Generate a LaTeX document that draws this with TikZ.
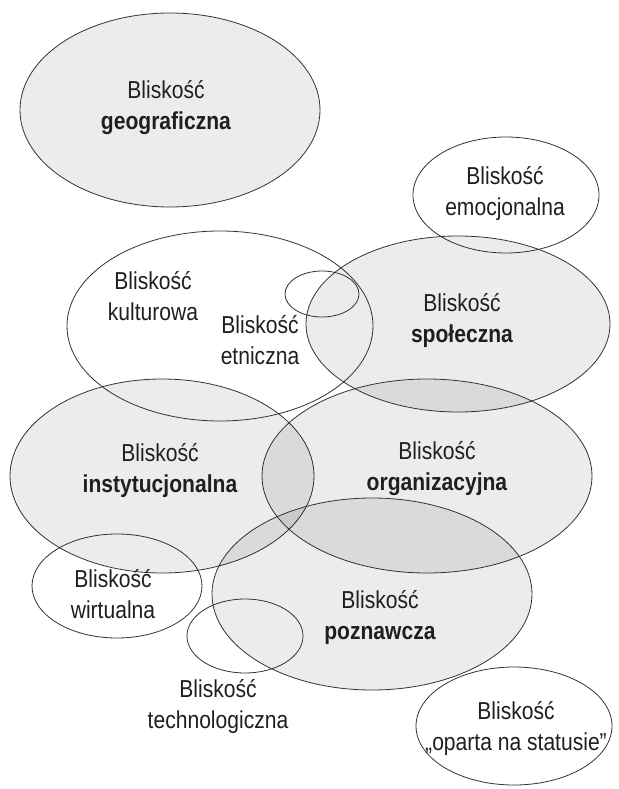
\documentclass[tikz,border=0pt]{standalone}
\usepackage{fontspec}
\setmainfont[FakeStretch=0.86]{Liberation Sans}
\usetikzlibrary{shapes.geometric}
\begin{document}
\begin{tikzpicture}[x=1pt,y=-1pt,
  ring/.style={ellipse,draw=black!80,line width=0.8pt,inner sep=0pt},
  blob/.style={ring,fill=black,fill opacity=0.075},
  lbl/.style={align=center,font=\fontsize{24.5}{31}\selectfont,text=black!88,inner sep=0pt}]
\useasboundingbox (0,0) rectangle (618,789);
% filled ellipses
\node[blob,minimum width=300pt,minimum height=194pt] (geo) at (170,110) {};
\node[blob,minimum width=304pt,minimum height=176pt] (spo) at (458,324) {};
\node[blob,minimum width=304pt,minimum height=194pt] (ins) at (162,476) {};
\node[blob,minimum width=330pt,minimum height=194pt] (org) at (427,476) {};
\node[blob,minimum width=320pt,minimum height=192pt] (poz) at (372,594) {};
% outline ellipses
\node[ring,minimum width=186pt,minimum height=116pt] (emo) at (506,195) {};
\node[ring,minimum width=306pt,minimum height=190pt] (kul) at (220,326) {};
\node[ring,minimum width=74pt,minimum height=46pt] (etn) at (322,294) {};
\node[ring,minimum width=170pt,minimum height=104pt] (wir) at (117,586) {};
\node[ring,minimum width=116pt,minimum height=74pt] (tec) at (245,636) {};
\node[ring,minimum width=196pt,minimum height=118pt] (sta) at (514,726) {};
% labels
\node[lbl] (tgeo) at (166,108) {Bliskość\\\textbf{geograficzna}};
\node[lbl] (temo) at (505,194) {Bliskość\\emocjonalna};
\node[lbl] (tkul) at (153,296) {Bliskość\\kulturowa};
\node[lbl] (tetn) at (260,340) {Bliskość\\etniczna};
\node[lbl] (tspo) at (462,321) {Bliskość\\\textbf{społeczna}};
\node[lbl] (tins) at (160,471) {Bliskość\\\textbf{instytucjonalna}};
\node[lbl] (torg) at (437,469) {Bliskość\\\textbf{organizacyjna}};
\node[lbl] (twir) at (113,594) {Bliskość\\wirtualna};
\node[lbl] (tpoz) at (380,618) {Bliskość\\\textbf{poznawcza}};
\node[lbl] (ttec) at (218,707) {Bliskość\\technologiczna};
\node[lbl] (tsta) at (516,729) {Bliskość\\„oparta na statusie”};
\end{tikzpicture}
\end{document}
